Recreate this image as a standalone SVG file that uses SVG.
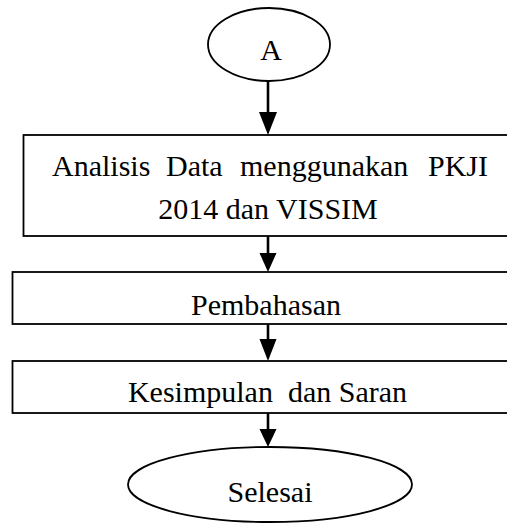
<svg xmlns="http://www.w3.org/2000/svg" width="507" height="529" viewBox="0 0 507 529">
<style>
.shape{fill:#fff;stroke:#000;stroke-width:1.8}
.t{font-family:"Liberation Serif","Times New Roman",serif;font-size:30px;fill:#000}
.c{text-anchor:middle}
.ln{stroke:#000;stroke-width:2.6;fill:none}
.hd{fill:#000;stroke:none}
</style>
<rect width="507" height="529" fill="#fff"/>
<g id="connectors">
<line class="ln" x1="268" y1="81" x2="268" y2="114"/>
<polygon class="hd" points="259,112 277,112 268,135"/>
<line class="ln" x1="268" y1="236" x2="268" y2="255"/>
<polygon class="hd" points="259.5,253 276.5,253 268,272"/>
<line class="ln" x1="268" y1="324" x2="268" y2="341"/>
<polygon class="hd" points="259.5,339 276.5,339 268,361"/>
<line class="ln" x1="268" y1="413" x2="268" y2="431"/>
<polygon class="hd" points="259.5,429 276.5,429 268,447"/>
</g>
<g id="nodeA">
<ellipse class="shape" cx="269" cy="44.5" rx="61" ry="36.5"/>
<text class="t c" x="271" y="60">A</text>
</g>
<g id="analisis">
<rect class="shape" x="23.5" y="135" width="700" height="101"/>
<text class="t" y="176"><tspan x="52">Analisis</tspan><tspan x="166">Data</tspan><tspan x="240">menggunakan</tspan><tspan x="428">PKJI</tspan></text>
<text class="t c" x="268" y="219">2014 dan VISSIM</text>
</g>
<g id="pembahasan">
<rect class="shape" x="12.5" y="272" width="700" height="52"/>
<text class="t c" x="266" y="315">Pembahasan</text>
</g>
<g id="kesimpulan">
<rect class="shape" x="12.5" y="361" width="700" height="52"/>
<text class="t c" x="267.5" y="402" xml:space="preserve">Kesimpulan  dan Saran</text>
</g>
<g id="selesai">
<ellipse class="shape" cx="270" cy="484.5" rx="142" ry="37.5"/>
<text class="t c" x="270" y="502">Selesai</text>
</g>
</svg>
